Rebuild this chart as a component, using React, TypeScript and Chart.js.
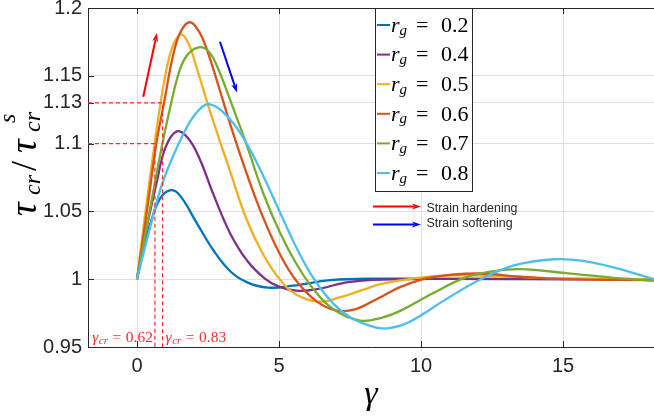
import React, { useEffect, useRef } from 'react';
import { Chart, registerables } from 'chart.js';

Chart.register(...registerables);

// ---------- data ----------
const rgValues = ['0.2', '0.4', '0.5', '0.6', '0.7', '0.8'];
const seriesColors = ['#0072BD', '#7E2F8E', '#EDB120', '#D95319', '#77AC30', '#4DBEEE'];

const gamma02 = [0, 0.25, 0.5, 0.8, 1.15, 1.5, 2.1, 2.7, 3.3, 3.9, 4.6, 5.5, 6.8, 8.5, 11, 18.2];
const tau02 = [1, 1.024, 1.043, 1.059, 1.0655, 1.062, 1.0415, 1.021, 1.0055, 0.9975, 0.9938, 0.9952, 0.9993, 1.0004, 1.0002, 1.0];

const gamma04 = [0, 0.3, 0.7, 1.0, 1.4, 1.8, 2.2, 2.7, 3.3, 3.9, 4.5, 5.0, 5.6, 6.3, 7.5, 9, 11, 18.2];
const tau04 = [1, 1.034, 1.072, 1.097, 1.109, 1.104, 1.089, 1.062, 1.033, 1.013, 1.0005, 0.9945, 0.9915, 0.9925, 0.998, 0.9998, 1.0002, 1.0];

const gamma05 = [0, 0.3, 0.62, 0.83, 1.05, 1.3, 1.57, 1.85, 2.1, 2.57, 3.27, 3.86, 4.45, 5.04, 5.6, 6.4, 7.2, 8.0, 8.6, 9.8, 11, 12.5, 14.5, 18.2];
const tau05 = [1, 1.05, 1.1, 1.13, 1.156, 1.174, 1.1805, 1.172, 1.156, 1.124, 1.08, 1.044, 1.018, 0.9995, 0.9888, 0.9835, 0.987, 0.9925, 0.9965, 1.0008, 1.0028, 1.0025, 1.0008, 1.0];

const gamma06 = [0, 0.35, 0.68, 0.95, 1.28, 1.55, 1.87, 2.2, 2.45, 2.92, 3.3, 3.86, 4.45, 5.04, 5.6, 6.3, 7.0, 7.7, 8.5, 9.3, 10.4, 12.0, 13.4, 15, 18.2];
const tau06 = [1, 1.05, 1.1, 1.13, 1.166, 1.183, 1.1895, 1.182, 1.17, 1.139, 1.113, 1.078, 1.045, 1.018, 0.999, 0.984, 0.977, 0.978, 0.986, 0.9945, 1.0015, 1.0042, 1.002, 1.0, 0.9993];

const gamma07 = [0, 0.4, 0.8, 1.14, 1.5, 1.8, 2.18, 2.5, 2.8, 3.39, 3.86, 4.45, 5.04, 5.62, 6.2, 6.9, 7.85, 8.6, 9.3, 10.4, 11.6, 12.6, 13.5, 15.1, 16.9, 18.2];
const tau07 = [1, 1.045, 1.09, 1.124, 1.154, 1.166, 1.171, 1.1685, 1.158, 1.126, 1.099, 1.063, 1.034, 1.011, 0.993, 0.978, 0.9695, 0.9715, 0.977, 0.9895, 1.0015, 1.006, 1.0074, 1.0045, 1.0008, 0.9988];

const gamma08 = [0, 0.46, 0.93, 1.63, 2.1, 2.57, 3.27, 3.86, 4.45, 5.04, 5.74, 6.33, 6.91, 7.5, 8.09, 8.62, 9.3, 9.85, 10.9, 12.1, 13.3, 14.66, 15.7, 16.9, 18.2];
const tau08 = [1, 1.038, 1.0728, 1.107, 1.123, 1.129, 1.118, 1.1, 1.076, 1.049, 1.018, 0.997, 0.982, 0.972, 0.9665, 0.9637, 0.966, 0.9715, 0.9855, 1.0, 1.0103, 1.0147, 1.0135, 1.008, 1.0];

const seriesGamma = [gamma02, gamma04, gamma05, gamma06, gamma07, gamma08];
const seriesTau = [tau02, tau04, tau05, tau06, tau07, tau08];

const xTickValues = [0, 5, 10, 15];
const yTickValues = [0.95, 1, 1.05, 1.1, 1.13, 1.15, 1.2];
const xRange = [-1.725, 18.2];
const yRange = [0.95, 1.2];

const criticalGamma = [0.63, 0.9];
const criticalTau = [1.1, 1.13];
const criticalText = ['0.62', '0.83'];

// [gamma0, tau0, gamma1, tau1]
const hardeningArrow = [0.22, 1.1346, 0.704, 1.1816];
const softeningArrow = [2.92, 1.1751, 3.52, 1.1377];
const arrowLegendText = ['Strain hardening', 'Strain softening'];
const arrowColors = ['#ff0000', '#0000ff'];

// ---------- drawing helpers ----------
const SERIF = '"Liberation Serif", "DejaVu Serif", serif';
const SANS = '"Liberation Sans", Arial, Helvetica, sans-serif';
const AXIS_COLOR = '#262626';

function drawArrow(ctx: CanvasRenderingContext2D, x0: number, y0: number, x1: number, y1: number, color: string) {
  const head = 9;
  const w = 6;
  const ang = Math.atan2(y1 - y0, x1 - x0);
  const bx = x1 - head * Math.cos(ang);
  const by = y1 - head * Math.sin(ang);
  ctx.save();
  ctx.strokeStyle = color;
  ctx.fillStyle = color;
  ctx.lineWidth = 2;
  ctx.beginPath();
  ctx.moveTo(x0, y0);
  ctx.lineTo(bx + 2 * Math.cos(ang), by + 2 * Math.sin(ang));
  ctx.stroke();
  ctx.beginPath();
  ctx.moveTo(x1, y1);
  ctx.lineTo(bx + (w / 2) * Math.sin(ang), by - (w / 2) * Math.cos(ang));
  ctx.lineTo(bx + 2.5 * Math.cos(ang), by + 2.5 * Math.sin(ang));
  ctx.lineTo(bx - (w / 2) * Math.sin(ang), by + (w / 2) * Math.cos(ang));
  ctx.closePath();
  ctx.fill();
  ctx.restore();
}

type Piece = { t: string; font: string; dx: number; dy: number };

function drawPieces(ctx: CanvasRenderingContext2D, x: number, y: number, pieces: Piece[]) {
  let cx = x;
  for (const p of pieces) {
    cx += p.dx;
    ctx.font = p.font;
    ctx.fillText(p.t, cx, y + p.dy);
    cx += ctx.measureText(p.t).width;
  }
  return cx;
}

function piecesWidth(ctx: CanvasRenderingContext2D, pieces: Piece[]) {
  let w = 0;
  for (const p of pieces) {
    ctx.font = p.font;
    w += p.dx + ctx.measureText(p.t).width;
  }
  return w;
}

const decorPlugin = {
  id: 'decor',
  afterDatasetsDraw(chart: any) {
    const { ctx, chartArea } = chart;
    const xs = chart.scales.x;
    const ys = chart.scales.y;
    ctx.save();

    // top border
    ctx.strokeStyle = AXIS_COLOR;
    ctx.lineWidth = 1;
    ctx.beginPath();
    ctx.moveTo(chartArea.left, Math.round(chartArea.top) + 0.5);
    ctx.lineTo(chartArea.right, Math.round(chartArea.top) + 0.5);
    ctx.stroke();

    // inward ticks
    ctx.beginPath();
    for (const v of xTickValues) {
      const px = Math.round(xs.getPixelForValue(v)) + 0.5;
      ctx.moveTo(px, chartArea.bottom);
      ctx.lineTo(px, chartArea.bottom - 6);
      ctx.moveTo(px, chartArea.top);
      ctx.lineTo(px, chartArea.top + 6);
    }
    for (const v of yTickValues) {
      const py = Math.round(ys.getPixelForValue(v)) + 0.5;
      ctx.moveTo(chartArea.left, py);
      ctx.lineTo(chartArea.left + 6, py);
    }
    ctx.stroke();

    // critical strain dashed lines
    ctx.strokeStyle = '#ff2a2a';
    ctx.lineWidth = 1.2;
    ctx.setLineDash([4, 3]);
    for (let i = 0; i < criticalGamma.length; i++) {
      const px = xs.getPixelForValue(criticalGamma[i]);
      const py = ys.getPixelForValue(criticalTau[i]);
      ctx.beginPath();
      ctx.moveTo(chartArea.left, py);
      ctx.lineTo(px, py);
      ctx.lineTo(px, chartArea.bottom);
      ctx.stroke();
    }
    ctx.setLineDash([]);

    // critical labels
    ctx.fillStyle = '#ff2a2a';
    ctx.textBaseline = 'alphabetic';
    ctx.textAlign = 'left';
    const baseY = chartArea.bottom - 5.5;
    for (let i = 0; i < criticalGamma.length; i++) {
      const pieces: Piece[] = [
        { t: 'γ', font: `italic 15.5px ${SERIF}`, dx: 0, dy: 0 },
        { t: 'cr', font: `italic 11px ${SERIF}`, dx: 0.5, dy: 2.5 },
        { t: '=', font: `15.5px ${SERIF}`, dx: 4.5, dy: 0 },
        { t: criticalText[i], font: `15.5px ${SERIF}`, dx: 4.5, dy: 0 },
      ];
      const px = xs.getPixelForValue(criticalGamma[i]);
      const w = piecesWidth(ctx, pieces);
      const startX = i === 0 ? px - 2 - w : px + 3;
      drawPieces(ctx, startX, baseY, pieces);
    }

    // strain arrows on the plot
    drawArrow(ctx, xs.getPixelForValue(hardeningArrow[0]), ys.getPixelForValue(hardeningArrow[1]),
      xs.getPixelForValue(hardeningArrow[2]), ys.getPixelForValue(hardeningArrow[3]), arrowColors[0]);
    drawArrow(ctx, xs.getPixelForValue(softeningArrow[0]), ys.getPixelForValue(softeningArrow[1]),
      xs.getPixelForValue(softeningArrow[2]), ys.getPixelForValue(softeningArrow[3]), arrowColors[1]);

    ctx.restore();
  },
  afterDraw(chart: any) {
    const { ctx, chartArea } = chart;
    ctx.save();

    // legend box
    const lx0 = 375.5, ly0 = Math.round(chartArea.top) + 0.5, lx1 = 472.5, ly1 = 191.5;
    ctx.fillStyle = '#ffffff';
    ctx.fillRect(lx0, ly0, lx1 - lx0, ly1 - ly0);
    ctx.strokeStyle = AXIS_COLOR;
    ctx.lineWidth = 1;
    ctx.strokeRect(lx0, ly0, lx1 - lx0, ly1 - ly0);

    ctx.textAlign = 'left';
    ctx.textBaseline = 'alphabetic';
    for (let i = 0; i < rgValues.length; i++) {
      const cy = ly0 + 16.5 + i * 29.6;
      ctx.strokeStyle = seriesColors[i];
      ctx.lineWidth = 2;
      ctx.beginPath();
      ctx.moveTo(377, cy);
      ctx.lineTo(390, cy);
      ctx.stroke();
      ctx.fillStyle = '#000000';
      ctx.font = `italic 22px ${SERIF}`;
      ctx.fillText('r', 391, cy + 6.7);
      ctx.font = `italic 15px ${SERIF}`;
      ctx.fillText('g', 399.5, cy + 9.5);
      ctx.font = `22px ${SERIF}`;
      ctx.fillText('=', 416, cy + 6.7);
      ctx.fillText(rgValues[i], 441, cy + 6.7);
    }

    // arrow legend
    const arrowYs = [206.5, 224.5];
    const textYs = [211.7, 226.7];
    for (let i = 0; i < 2; i++) {
      drawArrow(ctx, 373, arrowYs[i], 421, arrowYs[i], arrowColors[i]);
      ctx.fillStyle = AXIS_COLOR;
      ctx.font = `12.4px ${SANS}`;
      ctx.fillText(arrowLegendText[i], 426.5, textYs[i]);
    }

    // y axis title: tau_cr / tau^s_cr
    ctx.save();
    ctx.translate(36, 216);
    ctx.rotate(-Math.PI / 2);
    ctx.fillStyle = '#000000';
    const big = `italic 38px ${SERIF}`;
    const small = `italic 24px ${SERIF}`;
    ctx.font = big; ctx.fillText('τ', 0, 0);
    ctx.font = small; ctx.fillText('cr', 21, 4);
    ctx.font = `36px ${SERIF}`; ctx.fillText('/', 45, 0);
    ctx.font = big; ctx.fillText('τ', 63, 0);
    ctx.font = small; ctx.fillText('cr', 84, 4);
    ctx.font = small; ctx.fillText('s', 93, -21);
    ctx.restore();

    ctx.restore();
  },
};

export default function App() {
  const canvasRef = useRef<HTMLCanvasElement | null>(null);

  useEffect(() => {
    const canvas = canvasRef.current;
    if (!canvas) return;
    const datasets = seriesGamma.map((g, i) => ({
      label: `r_g = ${rgValues[i]}`,
      data: g.map((x, j) => ({ x, y: seriesTau[i][j] })),
      borderColor: seriesColors[i],
      backgroundColor: seriesColors[i],
      borderWidth: 2.3,
      pointRadius: 0,
      fill: false,
      tension: 0.4,
      order: seriesGamma.length - 1 - i,
    }));

    const chart = new Chart(canvas, {
      type: 'line',
      data: { datasets },
      options: {
        animation: false,
        responsive: false,
        devicePixelRatio: 1,
        layout: { padding: { top: 8, left: 0, right: 0, bottom: 0 } },
        plugins: { legend: { display: false }, tooltip: { enabled: false }, title: { display: false } },
        scales: {
          x: {
            type: 'linear',
            min: xRange[0],
            max: xRange[1],
            afterBuildTicks: (s: any) => { s.ticks = xTickValues.map((v) => ({ value: v })); },
            afterFit: (s: any) => { s.height = 73; s.paddingLeft = 0; s.paddingRight = 0; },
            grid: { color: '#dfdfdf', lineWidth: 1, drawTicks: false },
            border: { color: AXIS_COLOR, width: 1 },
            ticks: {
              autoSkip: false,
              maxRotation: 0,
              padding: 7,
              color: AXIS_COLOR,
              font: { family: SANS, size: 20 },
              callback: (v: any) => String(v),
            },
            title: {
              display: true,
              text: 'γ',
              color: '#000000',
              font: { family: SERIF, size: 34, style: 'italic' },
              padding: { top: 0, bottom: 5 },
            },
          },
          y: {
            type: 'linear',
            min: yRange[0],
            max: yRange[1],
            afterBuildTicks: (s: any) => { s.ticks = yTickValues.map((v) => ({ value: v })); },
            afterFit: (s: any) => { s.width = 88; s.paddingTop = 0; s.paddingBottom = 0; },
            grid: { color: '#dfdfdf', lineWidth: 1, drawTicks: false },
            border: { color: AXIS_COLOR, width: 1 },
            ticks: {
              autoSkip: false,
              padding: 6,
              color: AXIS_COLOR,
              font: { family: SANS, size: 20 },
              callback: (v: any) => String(v),
            },
          },
        },
      },
      plugins: [decorPlugin],
    });
    return () => chart.destroy();
  }, []);

  return (
    <div style={{ position: 'fixed', left: 0, top: 0, width: 654, height: 420, background: '#ffffff' }}>
      <canvas ref={canvasRef} width={654} height={420} style={{ width: 654, height: 420, display: 'block' }} />
    </div>
  );
}
